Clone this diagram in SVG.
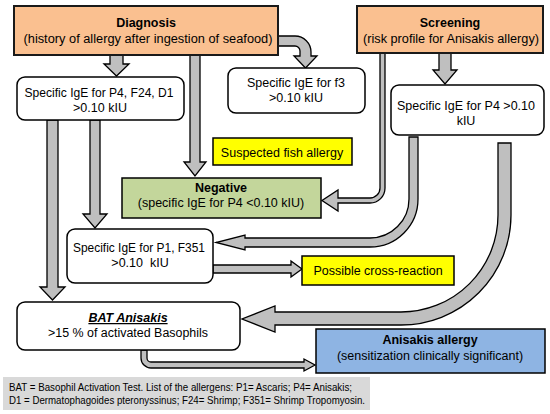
<svg xmlns="http://www.w3.org/2000/svg" width="550" height="414" viewBox="0 0 550 414">
<style>
text{font-family:"Liberation Sans",Arial,sans-serif;font-size:12.5px;fill:#000;text-anchor:middle}
.b{font-weight:bold}
.hdr{fill:#FAC090;stroke:#1a1a1a;stroke-width:2}
.wbox{fill:#fff;stroke:#000;stroke-width:1.5}
.ybox{fill:#FFFF00;stroke:#000;stroke-width:1.5}
.arr{fill:#BFBFBF;stroke:#000;stroke-width:1.3;stroke-linejoin:miter}
.ft{font-size:10.3px;text-anchor:start}
</style>
<rect width="550" height="414" fill="#fff"/>
<g id="connectors">
<path class="arr" d="M110,55 H123 V64 H129 L116.5,76 L104,64 H110 Z"/>
<path class="arr" d="M190,55 H200 V162 H206 L195,176 L184,162 H190 Z"/>
<path class="arr" d="M277,36 H295 A16,16 0 0 1 311,52 V56 H317 L305.5,68 L294,56 H300 V51 A5,5 0 0 0 295,46 H277 Z"/>
<path class="arr" d="M439,53 H451 V70 H457 L445,84 L433,70 H439 Z"/>
<path class="arr" d="M380,53 H385 V188 A15,15 0 0 1 370,203 H338 V211 L322,200.5 L338,190 V198 H370 A10,10 0 0 0 380,188 Z"/>
<path class="arr" d="M409,137 H418 V199 A48,48 0 0 1 370,247 H245 V250 L216,242.5 L245,235 V238 H370 A39,39 0 0 0 409,199 Z"/>
<path class="arr" d="M90,120 H100 V214 H107 L95,228 L83,214 H90 Z"/>
<path class="arr" d="M47,120 H58 V287 H65 L52.5,300 L40,287 H47 Z"/>
<path class="arr" d="M213,265 H291 V261 L302,269 L291,277 V273 H213 Z"/>
<path class="arr" d="M498,143 H511 V215 A110,110 0 0 1 401,325 H275 V332 L242,319 L275,306 V312 H401 A97,97 0 0 0 498,215 Z"/>
<path class="arr" d="M141,350 H147 V358 A4,4 0 0 0 151,362 H304 V359 L315,365 L304,371 V368 H151 A10,10 0 0 1 141,358 Z"/>
</g>
<g id="diagnosis">
<rect class="hdr" x="14" y="6" width="264" height="49"/>
<text class="b" x="146" y="27">Diagnosis</text>
<text x="148" y="43" textLength="249" lengthAdjust="spacingAndGlyphs">(history of allergy after ingestion of seafood)</text>
</g>
<g id="screening">
<rect class="hdr" x="357" y="6" width="186" height="47"/>
<text class="b" x="450" y="27">Screening</text>
<text x="451" y="43" textLength="176" lengthAdjust="spacingAndGlyphs">(risk profile for Anisakis allergy)</text>
</g>
<g id="ige-p4-f24-d1">
<rect class="wbox" x="17" y="77" width="167" height="43" rx="8"/>
<text x="99" y="97" textLength="149" lengthAdjust="spacingAndGlyphs">Specific IgE for P4, F24, D1</text>
<text x="100" y="112">&gt;0.10 kIU</text>
</g>
<g id="ige-f3">
<rect class="wbox" x="228" y="68" width="137" height="45" rx="8"/>
<text x="296" y="87">Specific IgE for f3</text>
<text x="296" y="102">&gt;0.10 kIU</text>
</g>
<g id="ige-p4">
<rect class="wbox" x="391" y="85" width="153" height="50" rx="8"/>
<text x="466" y="110">Specific IgE for P4 &gt;0.10</text>
<text x="466" y="125">kIU</text>
</g>
<g id="suspected-fish">
<rect class="ybox" x="213" y="138" width="139" height="27"/>
<text x="282" y="157">Suspected fish allergy</text>
</g>
<g id="negative">
<rect x="122" y="178" width="199" height="40" fill="#C3D69B" stroke="#000" stroke-width="1.5"/>
<text class="b" x="221" y="192">Negative</text>
<text x="221" y="207">(specific IgE for P4 &lt;0.10 kIU)</text>
</g>
<g id="ige-p1-f351">
<rect class="wbox" x="67" y="229" width="146" height="54" rx="8"/>
<text x="139" y="252" textLength="132" lengthAdjust="spacingAndGlyphs">Specific IgE for P1, F351</text>
<text x="140" y="267" xml:space="preserve">&gt;0.10  kIU</text>
</g>
<g id="cross-reaction">
<rect class="ybox" x="302" y="256" width="152" height="29"/>
<text x="378" y="275">Possible cross-reaction</text>
</g>
<g id="bat">
<rect class="wbox" x="17" y="302" width="223" height="48" rx="8"/>
<text class="b" x="128" y="322" font-style="italic" text-decoration="underline">BAT Anisakis</text>
<text x="128" y="337" textLength="160" lengthAdjust="spacingAndGlyphs">&gt;15 % of activated Basophils</text>
</g>
<g id="anisakis-allergy">
<rect x="316" y="329" width="229" height="44" fill="#8EB4E3" stroke="#000" stroke-width="1.5"/>
<text class="b" x="430" y="344">Anisakis allergy</text>
<text x="430" y="360">(sensitization clinically significant)</text>
</g>
<g id="footer">
<rect x="3" y="377" width="367" height="33" fill="#D9D9D9"/>
<text class="ft" x="9" y="391" textLength="343" lengthAdjust="spacingAndGlyphs">BAT = Basophil Activation Test. List of the allergens: P1= Ascaris; P4= Anisakis;</text>
<text class="ft" x="9" y="404" textLength="356" lengthAdjust="spacingAndGlyphs">D1 = Dermatophagoides pteronyssinus; F24= Shrimp; F351= Shrimp Tropomyosin.</text>
</g>
</svg>
